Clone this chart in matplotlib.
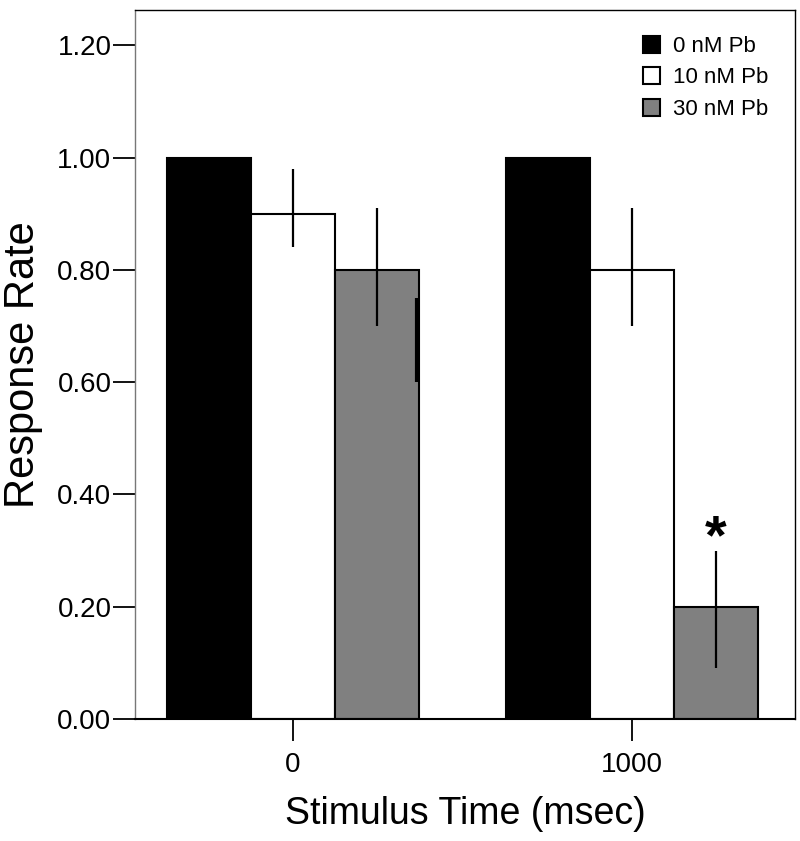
import matplotlib
matplotlib.use("Agg")
import matplotlib.pyplot as plt
import numpy as np
from matplotlib.patches import Patch

plt.rcParams["font.family"] = ["Liberation Sans", "DejaVu Sans"]

GROUPS = ["0", "1000"]
SERIES = ["0 nM Pb", "10 nM Pb", "30 nM Pb"]
COLORS = ["#000000", "#ffffff", "#808080"]
MEANS = [
    [1.00, 1.00],
    [0.90, 0.80],
    [0.80, 0.20],
]
# error bar ends (low, high); None where no bar is drawn
ERR_LOW = [
    [None, None],
    [0.84, 0.70],
    [0.70, 0.09],
]
ERR_HIGH = [
    [None, None],
    [0.98, 0.91],
    [0.91, 0.30],
]
# stray error segment printed at the right edge of the 30 nM bar at 0 msec
STRAY_LOW = 0.60
STRAY_HIGH = 0.75
STAR_Y = 0.32


def main() -> int:
    fig = plt.figure(figsize=(8.0, 8.41), dpi=100)
    ax = fig.add_axes([135 / 800, 1 - 719 / 841, 660 / 800, 709 / 841])

    x = np.arange(len(GROUPS))
    width = 0.248
    for i, (name, color) in enumerate(zip(SERIES, COLORS)):
        pos = x + (i - 1) * width
        ax.bar(pos, MEANS[i], width=width, color=color, edgecolor="black",
               linewidth=1.5, label=name, zorder=2)
        for j, p in enumerate(pos):
            if ERR_LOW[i][j] is not None:
                ax.vlines(p, ERR_LOW[i][j], ERR_HIGH[i][j], color="black",
                          linewidth=1.6, zorder=3)

    ax.vlines(x[0] + width * 1.5 - 0.006, STRAY_LOW, STRAY_HIGH, color="black",
              linewidth=3, zorder=3)
    ax.text(x[1] + width, STAR_Y, "*", ha="center", va="center",
            fontsize=40, fontweight="bold")

    ax.set_xlim(-0.465, 1.482)
    ax.set_ylim(0, 1.263)
    ax.set_xticks(x)
    ax.set_xticklabels(GROUPS)
    ax.set_yticks(np.arange(0, 1.21, 0.2))
    ax.set_yticklabels([f"{v:.2f}" for v in np.arange(0, 1.21, 0.2)])
    ax.tick_params(axis="both", labelsize=20, length=16, width=1.3)
    ax.tick_params(axis="y", pad=1)
    ax.tick_params(axis="x", pad=8)

    for side in ["left", "top", "right", "bottom"]:
        ax.spines[side].set_linewidth(1.0)
    ax.spines["left"].set_color("#777777")
    ax.spines["bottom"].set_linewidth(1.5)

    ax.set_ylabel("Response Rate", fontsize=30, labelpad=10)
    ax.set_xlabel("Stimulus Time (msec)", fontsize=27, labelpad=13)

    handles = [Patch(facecolor=c, edgecolor="black", linewidth=1.5) for c in COLORS]
    ax.legend(handles, SERIES, loc="upper right", frameon=False, fontsize=16,
              handlelength=0.75, handleheight=0.8, handletextpad=0.6,
              labelspacing=0.46, bbox_to_anchor=(0.99, 0.992))

    fig.savefig("out.png", dpi=100)
    plt.close(fig)
    return 0


if __name__ == "__main__":
    raise SystemExit(main())
